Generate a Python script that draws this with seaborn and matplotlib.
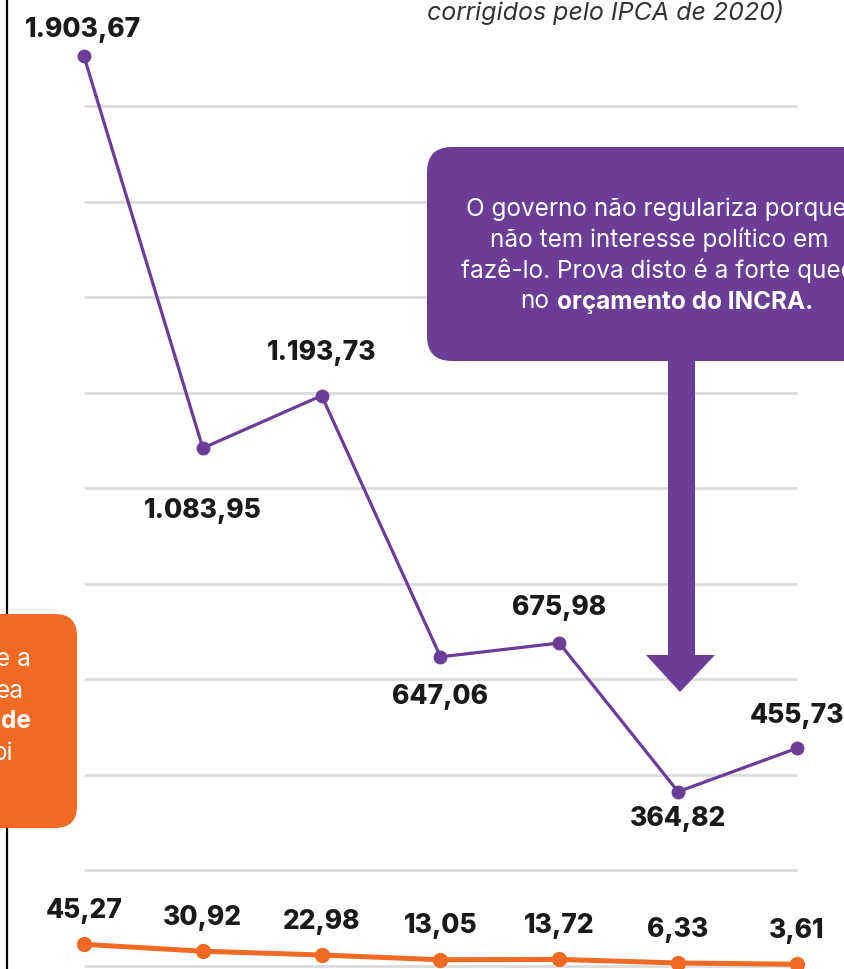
import numpy as np
import pandas as pd
import seaborn as sns
import matplotlib.pyplot as plt
from matplotlib.patches import FancyBboxPatch, Polygon

sns.set_theme(style="white")
plt.rcParams['font.family'] = ['Inter', 'DejaVu Sans']

# data (valores em R$ milhões, corrigidos pelo IPCA de 2020)
years = [2014, 2015, 2016, 2017, 2018, 2019, 2020]
incra = [1903.67, 1083.95, 1193.73, 647.06, 675.98, 364.82, 455.73]
regularizacao = [45.27, 30.92, 22.98, 13.05, 13.72, 6.33, 3.61]
incra_labels = ["1.903,67", "1.083,95", "1.193,73", "647,06", "675,98", "364,82", "455,73"]
reg_labels = ["45,27", "30,92", "22,98", "13,05", "13,72", "6,33", "3,61"]

# label offsets in points (layout)
incra_offsets = [(-1, 19), (0, -45), (0, 31), (0, -29), (0, 25), (0, -20), (0, 23)]

purple = "#6b3d97"
orange = "#f06a24"

df = pd.DataFrame({"ano": years, "incra": incra, "reg": regularizacao})

fig = plt.figure(figsize=(8.44, 9.69), dpi=100)
ax = fig.add_axes([0, 0, 1, 1])
ax.set_xlim(years[0] - 0.707, years[-1] + 0.396)
ax.set_ylim(-6.3, 2021.8)
ax.axis("off")

ax.hlines(np.arange(0, 1801, 200), years[0], years[-1], color="#dcdcdc", lw=2, zorder=0)

sns.lineplot(data=df, x="ano", y="incra", ax=ax, color=purple, lw=2.3,
             marker="o", markersize=10, markeredgewidth=0, zorder=3)
sns.lineplot(data=df, x="ano", y="reg", ax=ax, color=orange, lw=3.6,
             marker="o", markersize=11, markeredgewidth=0, zorder=3)

for x, y, t, off in zip(years, incra, incra_labels, incra_offsets):
    ax.annotate(t, (x, y), xytext=off, textcoords="offset points", ha="center",
                va="center", fontsize=19, fontweight="heavy", color="#1a1a1a")
for x, y, t in zip(years, regularizacao, reg_labels):
    ax.annotate(t, (x, y), xytext=(0, 24), textcoords="offset points", ha="center",
                va="center", fontsize=19, fontweight="heavy", color="#1a1a1a")

# overlay in pixel coordinates for the decorations
ov = fig.add_axes([0, 0, 1, 1], facecolor="none")
ov.set_xlim(0, 844)
ov.set_ylim(969, 0)
ov.axis("off")

ov.plot([7, 7], [0, 969], color="black", lw=1.6, zorder=1)

ov.text(427, 12, "corrigidos pelo IPCA de 2020)", fontsize=18, style="italic",
        color="#333333", ha="left", va="center")

# purple callout
ov.add_patch(FancyBboxPatch((427 + 25, 147 + 25), 500, 214 - 50,
                            boxstyle="round,pad=25,rounding_size=25",
                            fc=purple, ec="none", zorder=2))
box_lines = [(466, 209, "O governo não regulariza porque"),
             (490, 240, "não tem interesse político em"),
             (461, 271, "fazê-lo. Prova disto é a forte queda")]
for x, y, t in box_lines:
    ov.text(x, y, t, fontsize=17.5, color="white", ha="left", va="center", zorder=3)
ov.text(520, 302, "no", fontsize=17.5, color="white", ha="left", va="center", zorder=3)
ov.text(557, 302, "orçamento do INCRA.", fontsize=17.5, fontweight="bold",
        color="white", ha="left", va="center", zorder=3)

ov.add_patch(Polygon([(668, 355), (695, 355), (695, 655), (715, 655), (680, 692),
                      (646, 655), (668, 655)], closed=True, fc=purple, ec="none", zorder=2))

# orange callout
ov.add_patch(FancyBboxPatch((-60 + 22, 614 + 22), 137 - 44, 214 - 44,
                            boxstyle="round,pad=22,rounding_size=22",
                            fc=orange, ec="none", zorder=2))
orange_lines = [(31, 660, "e a", "normal"), (24, 691, "ea", "normal"),
                (31, 722, "de", "bold"), (13, 754, "oi", "normal")]
for x, y, t, w in orange_lines:
    ov.text(x, y, t, fontsize=17.5, color="white", ha="right", va="center",
            fontweight=w, zorder=3)

fig.savefig("out.png", dpi=100)
